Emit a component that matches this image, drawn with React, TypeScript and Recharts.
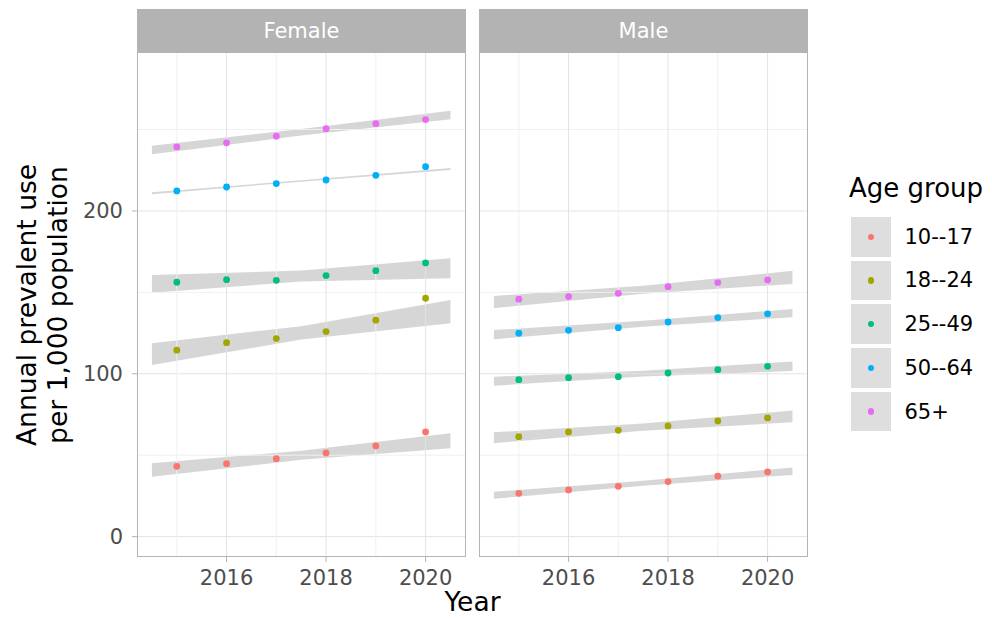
import {
  ComposedChart,
  Area,
  Scatter,
  XAxis,
  YAxis,
  ReferenceLine,
} from 'recharts'

const years = [2015, 2016, 2017, 2018, 2019, 2020]
const bandYears = [2014.5, 2017.5, 2020.5]
const xTicks = [2016, 2018, 2020]
const yTicks = [0, 100, 200]
const yGridMinor = [50, 150, 250]
const ageGroups = ['10--17', '18--24', '25--49', '50--64', '65+']
const groupColors = ['#F8766D', '#A3A500', '#00BF7D', '#00B0F6', '#E76BF3']

// Female, annual prevalent use per 1,000
const female1017 = [43.2, 44.8, 47.9, 51.4, 55.7, 64.3]
const female1824 = [114.5, 119.1, 121.6, 125.9, 132.9, 146.4]
const female2549 = [156.2, 157.8, 157.4, 160.3, 163.3, 168.1]
const female5064 = [212.3, 214.7, 216.8, 219.0, 221.9, 227.2]
const female65 = [239.3, 241.8, 245.9, 250.5, 253.6, 256.1]

// Male
const male1017 = [26.6, 28.7, 30.9, 33.8, 37.1, 39.7]
const male1824 = [61.4, 64.3, 65.3, 68.0, 71.0, 72.9]
const male2549 = [96.4, 97.6, 98.2, 100.5, 102.5, 104.6]
const male5064 = [124.9, 126.7, 128.3, 131.8, 134.5, 136.8]
const male65 = [145.8, 147.4, 149.4, 153.5, 156.0, 157.6]

// confidence bands [low, high] at bandYears
const femaleBand1017 = [[36.8, 45.1], [47.2, 52.7], [54.3, 63.5]]
const femaleBand1824 = [[105.4, 118.8], [121.0, 129.2], [131.0, 145.3]]
const femaleBand2549 = [[149.8, 160.7], [156.6, 163.4], [158.7, 171.0]]
const femaleBand5064 = [[210.3, 211.5], [218.0, 218.8], [225.2, 226.4]]
const femaleBand65 = [[234.8, 240.1], [246.3, 250.3], [256.3, 261.6]]

const maleBand1017 = [[23.2, 27.6], [31.3, 34.3], [37.9, 42.4]]
const maleBand1824 = [[57.4, 64.1], [65.1, 69.5], [70.2, 77.4]]
const maleBand2549 = [[92.7, 98.2], [98.3, 101.8], [101.7, 107.5]]
const maleBand5064 = [[121.2, 126.9], [128.9, 132.5], [134.7, 139.8]]
const maleBand65 = [[140.3, 147.8], [149.1, 154.1], [155.2, 163.2]]

const FONT = '"DejaVu Sans", Verdana, sans-serif'
const PANEL_W = 328.4
const PANEL_H = 505
const PANEL_TOP = 52
const FEMALE_LEFT = 137.3
const MALE_LEFT = 479.3
const Y_AXIS_W = 75
const X_AXIS_H = 45

const buildBandRows = (bands: number[][][]) =>
  bandYears.map((x, i) => {
    const row: Record<string, number | number[]> = { x }
    bands.forEach((b, g) => {
      row[`b${g}`] = b[i]
    })
    return row
  })

const toPoints = (values: number[]) => years.map((x, i) => ({ x, y: values[i] }))

const Dot = (props: any) => (
  <circle cx={props.cx} cy={props.cy} r={3.4} fill={props.fill} />
)

interface PanelProps {
  title: string
  left: number
  series: number[][]
  bands: number[][][]
  showY: boolean
}

function Panel({ title, left, series, bands, showY }: PanelProps) {
  const rows = buildBandRows(bands)
  const chartLeft = showY ? left - Y_AXIS_W : left
  const width = showY ? PANEL_W + Y_AXIS_W : PANEL_W

  return (
    <>
      <div
        style={{
          position: 'absolute',
          left,
          top: 9.3,
          width: PANEL_W,
          height: PANEL_TOP - 9.3,
          background: '#b3b3b3',
          color: '#ffffff',
          fontFamily: FONT,
          fontSize: 21,
          display: 'flex',
          alignItems: 'center',
          justifyContent: 'center',
        }}
      >
        {title}
      </div>
      <div style={{ position: 'absolute', left: chartLeft, top: PANEL_TOP }}>
        <ComposedChart
          width={width}
          height={PANEL_H + X_AXIS_H}
          data={rows}
          margin={{ top: 0, right: 0, bottom: 0, left: 0 }}
        >
          <XAxis
            dataKey="x"
            type="number"
            domain={[2014.2, 2020.8]}
            allowDataOverflow
            ticks={xTicks}
            height={X_AXIS_H}
            axisLine={false}
            tickSize={5}
            tickMargin={8}
            tickLine={{ stroke: '#b3b3b3' }}
            tick={{ fontSize: 21, fill: '#4d4d4d', fontFamily: FONT }}
          />
          <YAxis
            type="number"
            domain={[-12.5, 297.6]}
            allowDataOverflow
            ticks={yTicks}
            width={Y_AXIS_W}
            hide={!showY}
            axisLine={false}
            tickSize={5}
            tickMargin={9}
            tickLine={{ stroke: '#b3b3b3' }}
            tick={{ fontSize: 21, fill: '#4d4d4d', fontFamily: FONT }}
          />
          {yGridMinor.map((v) => (
            <ReferenceLine key={`hm${v}`} y={v} stroke="#f0f0f0" strokeWidth={1} />
          ))}
          {yTicks.map((v) => (
            <ReferenceLine key={`h${v}`} y={v} stroke="#e3e3e3" strokeWidth={1} />
          ))}
          {years.map((v) => (
            <ReferenceLine
              key={`v${v}`}
              x={v}
              stroke={v % 2 === 0 ? '#e3e3e3' : '#f0f0f0'}
              strokeWidth={1}
            />
          ))}
          {bands.map((_, g) => (
            <Area
              key={`band${g}`}
              dataKey={`b${g}`}
              type="linear"
              stroke="none"
              fill="#999999"
              fillOpacity={0.4}
              isAnimationActive={false}
            />
          ))}
          {series.map((values, g) => (
            <Scatter
              key={ageGroups[g]}
              name={ageGroups[g]}
              data={toPoints(values)}
              dataKey="y"
              fill={groupColors[g]}
              shape={Dot}
              isAnimationActive={false}
            />
          ))}
        </ComposedChart>
      </div>
      <div
        style={{
          position: 'absolute',
          left,
          top: PANEL_TOP,
          width: PANEL_W,
          height: PANEL_H,
          border: '1.5px solid #b3b3b3',
          boxSizing: 'border-box',
          pointerEvents: 'none',
        }}
      />
    </>
  )
}

export default function App() {
  return (
    <div
      style={{
        position: 'absolute',
        left: 0,
        top: 0,
        width: 992,
        height: 619,
        background: '#ffffff',
        fontFamily: FONT,
        overflow: 'hidden',
      }}
    >
      <Panel
        title="Female"
        left={FEMALE_LEFT}
        series={[female1017, female1824, female2549, female5064, female65]}
        bands={[femaleBand1017, femaleBand1824, femaleBand2549, femaleBand5064, femaleBand65]}
        showY
      />
      <Panel
        title="Male"
        left={MALE_LEFT}
        series={[male1017, male1824, male2549, male5064, male65]}
        bands={[maleBand1017, maleBand1824, maleBand2549, maleBand5064, maleBand65]}
        showY={false}
      />

      {/* y axis title */}
      <div
        style={{
          position: 'absolute',
          left: 41.5 - 200,
          top: 304.5 - 31,
          width: 400,
          height: 62,
          transform: 'rotate(-90deg)',
          textAlign: 'center',
          fontSize: 26.5,
          lineHeight: '31px',
          color: '#000000',
        }}
      >
        Annual prevalent use
        <br />
        per 1,000 population
      </div>

      {/* x axis title */}
      <div
        style={{
          position: 'absolute',
          left: FEMALE_LEFT,
          top: 589,
          width: MALE_LEFT + PANEL_W - FEMALE_LEFT,
          textAlign: 'center',
          fontSize: 26.5,
          lineHeight: 1,
          color: '#000000',
        }}
      >
        Year
      </div>

      {/* legend */}
      <div style={{ position: 'absolute', left: 849, top: 175, color: '#000000' }}>
        <div style={{ fontSize: 26, lineHeight: 1 }}>Age group</div>
        <div style={{ position: 'absolute', top: 42, left: 2 }}>
          {ageGroups.map((g, i) => (
            <div
              key={g}
              style={{
                display: 'flex',
                alignItems: 'center',
                height: 39.5,
                marginBottom: 4.2,
                whiteSpace: 'nowrap',
              }}
            >
              <div
                style={{
                  width: 39.5,
                  height: 39.5,
                  background: '#dedede',
                  display: 'flex',
                  alignItems: 'center',
                  justifyContent: 'center',
                }}
              >
                <div
                  style={{
                    width: 6.5,
                    height: 6.5,
                    borderRadius: '50%',
                    background: groupColors[i],
                  }}
                />
              </div>
              <span style={{ fontSize: 21, marginLeft: 14 }}>{g}</span>
            </div>
          ))}
        </div>
      </div>
    </div>
  )
}
